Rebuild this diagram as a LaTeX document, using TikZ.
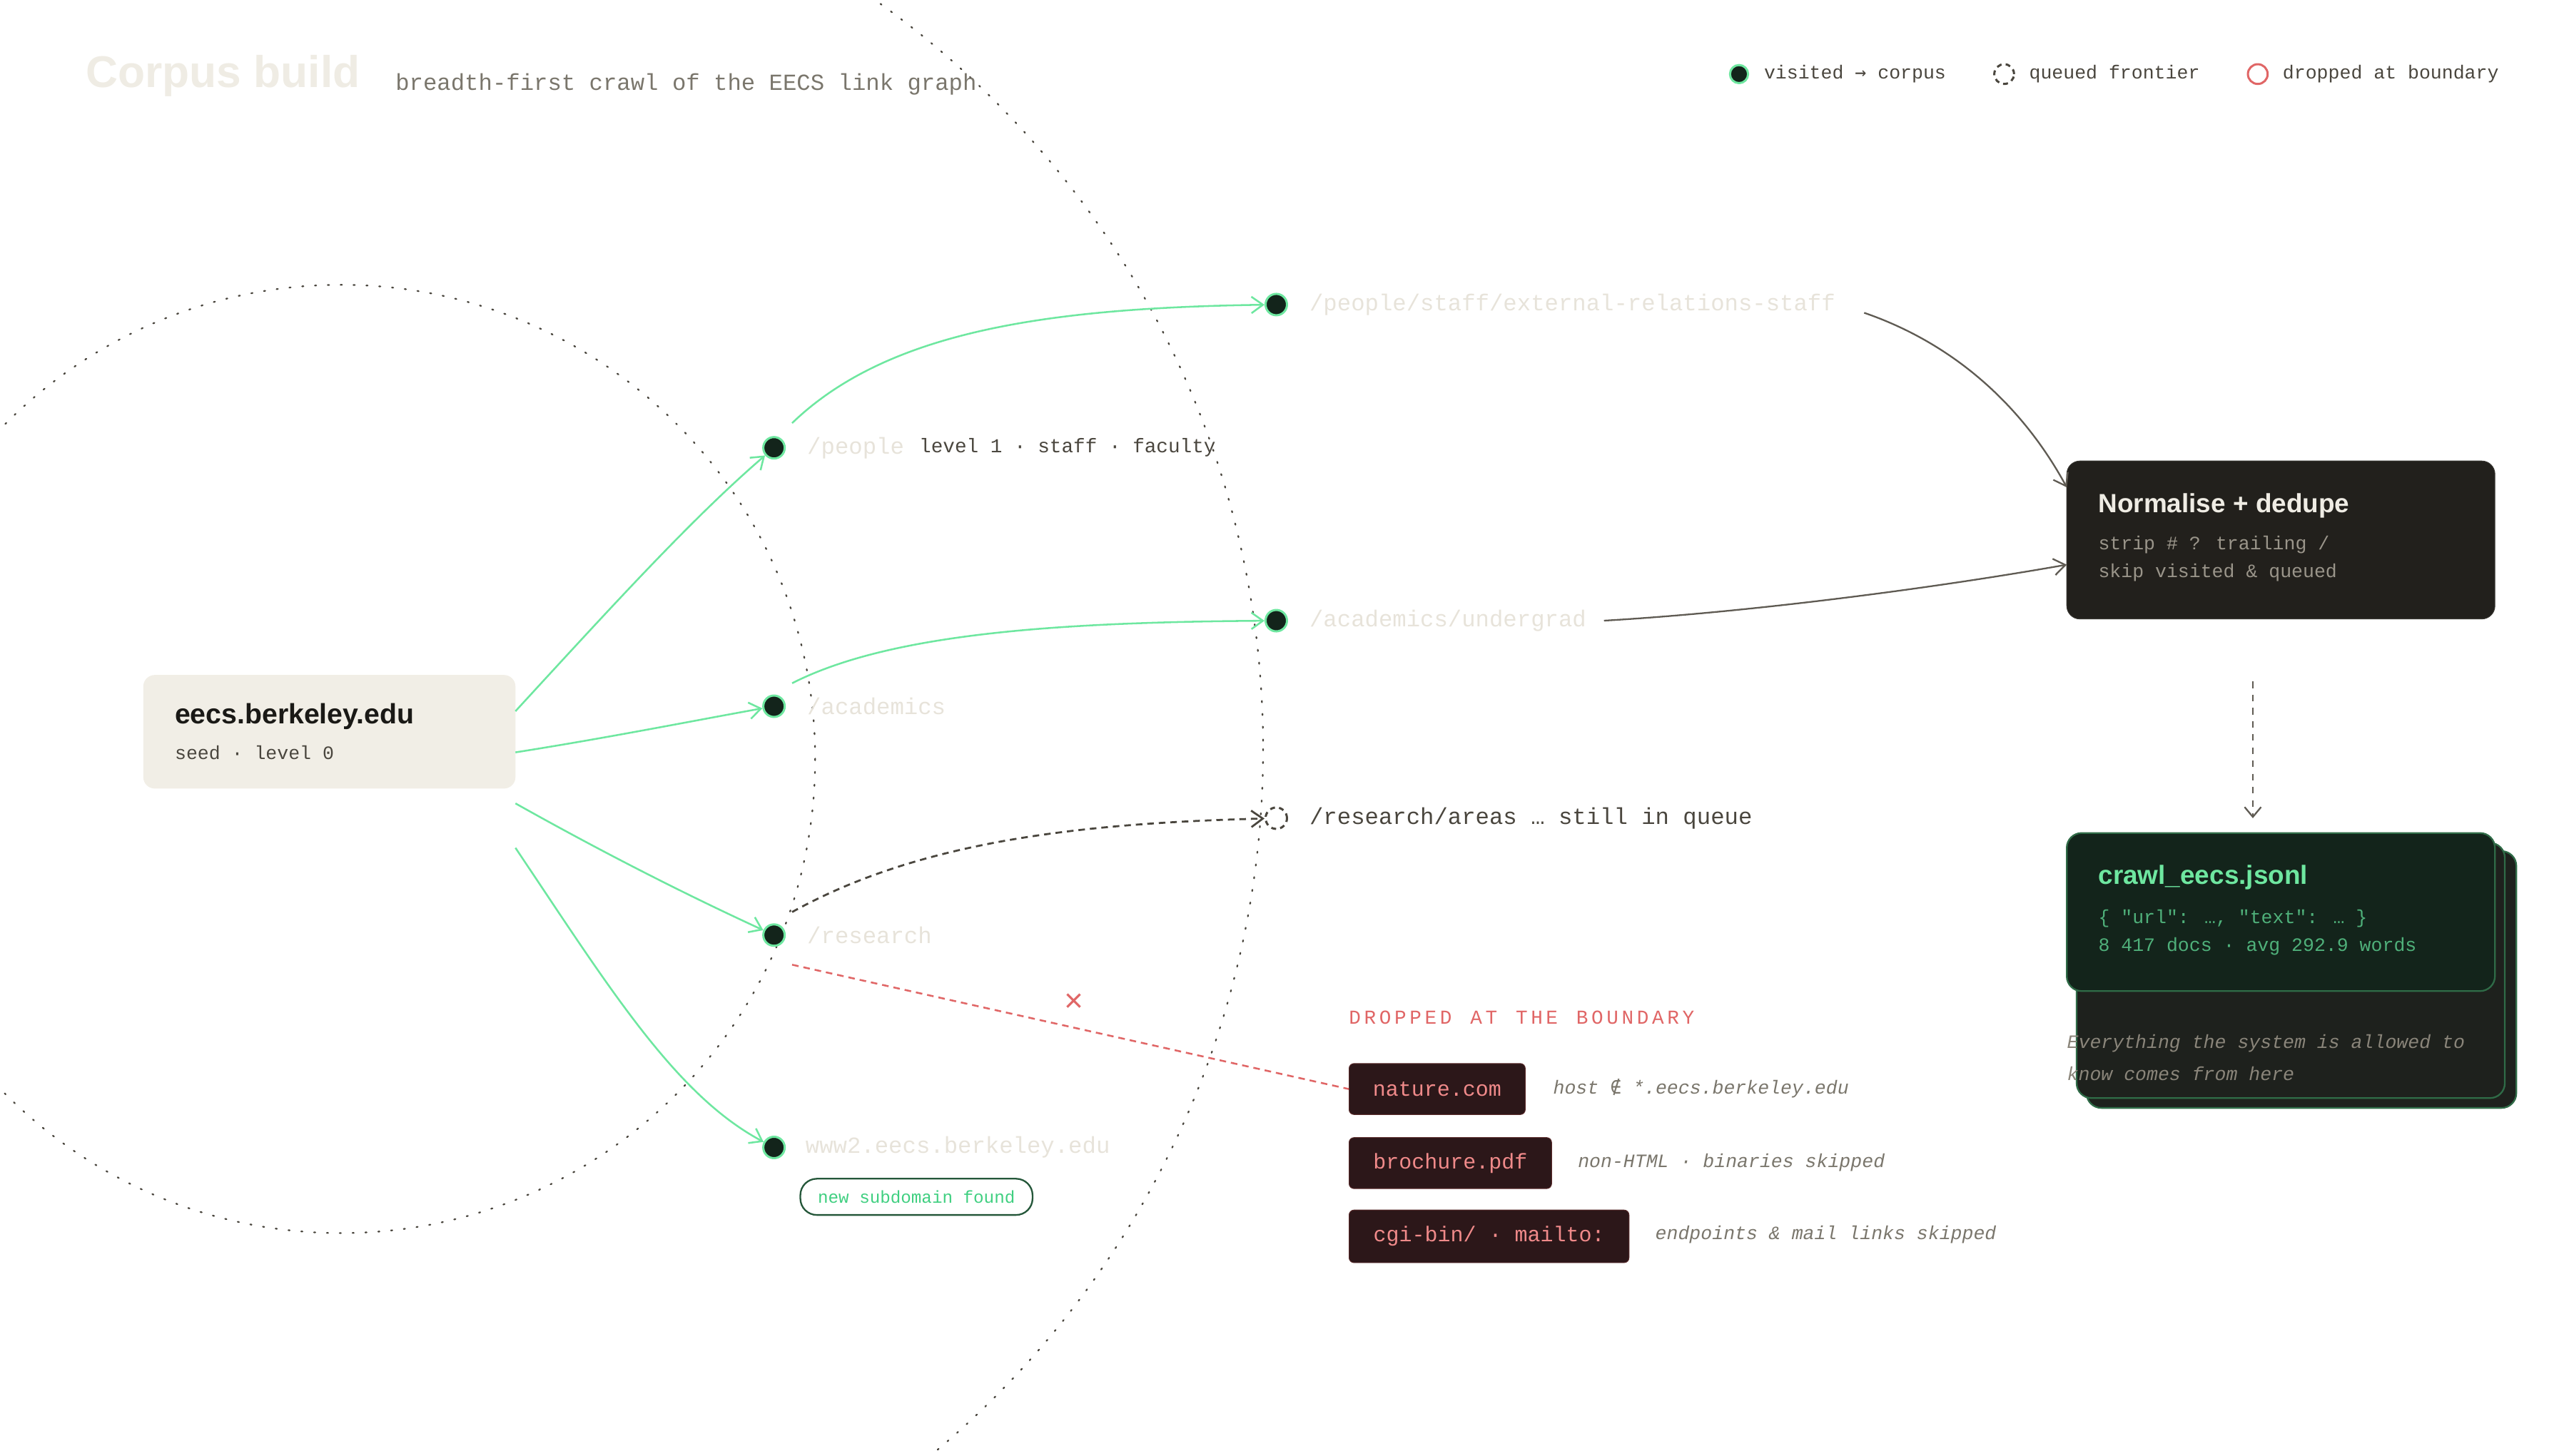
\documentclass[tikz,border=0pt]{standalone}
\usepackage{fontspec}
\setmainfont{Liberation Sans}
\newfontfamily\mono{Liberation Mono}
\newfontfamily\sym{DejaVu Sans Mono}
\usetikzlibrary{arrows.meta}
\definecolor{grn}{HTML}{6EE7A0}
\definecolor{dk}{HTML}{13241B}
\definecolor{lite}{HTML}{E7E3DA}
\definecolor{txt}{HTML}{4A463E}
\definecolor{gry}{HTML}{7A766C}
\definecolor{redc}{HTML}{E06666}
\definecolor{arr}{HTML}{5F5B53}
\definecolor{pillf}{HTML}{2C1719}
\definecolor{pilld}{HTML}{5A2A2A}
\definecolor{ttl}{HTML}{EFECE4}
\definecolor{seedf}{HTML}{F1EEE6}
\definecolor{ink}{HTML}{1A1916}
\definecolor{nsd}{HTML}{25573A}
\definecolor{nst}{HTML}{3FCF80}
\definecolor{pink}{HTML}{F08A8A}
\definecolor{nbf}{HTML}{22201C}
\definecolor{nbd}{HTML}{3A3833}
\definecolor{nbt}{HTML}{9A958A}
\definecolor{stf}{HTML}{1E211D}
\definecolor{std}{HTML}{2F6B47}
\definecolor{jtxt}{HTML}{4FB07A}
\definecolor{ital}{HTML}{8A857A}
\begin{document}
\begin{tikzpicture}[x=1pt,y=-1pt,
  dot/.style={circle,minimum size=13pt,inner sep=0,fill=dk,draw=grn,line width=1.3pt},
  lbl/.style={anchor=west,font=\mono\fontsize{14}{16}\selectfont,text=lite,inner sep=0},
  note/.style={anchor=west,font=\mono\itshape\fontsize{11.5}{14}\selectfont,text=gry,inner sep=0},
  pill/.style={anchor=west,rounded corners=3pt,fill=pillf,draw=pilld,inner sep=0},
  pillt/.style={font=\mono\fontsize{13}{15}\selectfont,text=pink},
  garr/.style={draw=grn,line width=1.1pt,-{Straight Barb[length=7pt,width=10pt]}},
  darr/.style={draw=arr,line width=1pt,-{Straight Barb[length=7pt,width=10pt]}},
  bound/.style={draw=txt,line width=1pt,dash pattern=on 0.8pt off 7pt,line cap=round},
  sm/.style={anchor=west,inner sep=0,font=\mono\fontsize{11.5}{14}\selectfont}]
\useasboundingbox (0,0) rectangle (1560,884);
\begin{scope}
\clip (0,0) rectangle (1560,884);
\draw[bound] (207,461) circle (288);
\draw[bound] (210,455) circle (557);
\end{scope}
% title
\node[anchor=west,inner sep=0,font=\bfseries\fontsize{27}{30}\selectfont,text=ttl] (title) at (52,46) {Corpus build};
\node[anchor=west,inner sep=0,font=\mono\fontsize{14}{16}\selectfont,text=gry] (sub) at (240,51) {breadth-first crawl of the EECS link graph};
% legend
\node[dot,minimum size=11pt] (lg1) at (1056,45) {};
\node[sm,text=txt] (lt1) at (1071,45) {visited {\sym→} corpus};
\node[circle,minimum size=12pt,inner sep=0,draw=txt,line width=1.3pt,dash pattern=on 3pt off 2.5pt] (lg2) at (1217,45) {};
\node[sm,text=txt] (lt2) at (1232,45) {queued frontier};
\node[circle,minimum size=12pt,inner sep=0,draw=redc,line width=1.3pt] (lg3) at (1371,45) {};
\node[sm,text=txt] (lt3) at (1386,45) {dropped at boundary};
% seed
\node[fill=seedf,rounded corners=7pt,minimum width=226pt,minimum height=69pt,inner sep=0] (seed) at (200,444.5) {};
\node[anchor=west,inner sep=0,font=\bfseries\fontsize{17}{20}\selectfont,text=ink] (st) at (106,435) {eecs.berkeley.edu};
\node[sm,text=txt] (ss) at (106,457) {seed · level 0};
% level 1
\node[dot] (p) at (470,272) {};
\node[dot] (a) at (470,429) {};
\node[dot] (r) at (470,568) {};
\node[dot] (w) at (470,697) {};
\node[lbl] (pl) at (490,272) {/people};
\node[anchor=west,inner sep=0,font=\mono\fontsize{12}{14}\selectfont,text=txt] (pn) at (558,272) {level 1 · staff · faculty};
\node[lbl] (al) at (490,429) {/academics};
\node[lbl] (rl) at (490,568) {/research};
\node[lbl] (wl) at (489,697) {www2.eecs.berkeley.edu};
\node[draw=nsd,line width=1pt,rounded corners=10pt,minimum width=141pt,minimum height=22pt,inner sep=0,font=\mono\fontsize{10.5}{12}\selectfont,text=nst] (ns) at (556.5,727) {new subdomain found};
% level 2
\node[dot] (ps) at (775,185) {};
\node[dot] (au) at (775,377) {};
\node[circle,minimum size=13pt,inner sep=0,draw=txt,line width=1.3pt,dash pattern=on 3pt off 2.5pt] (ra) at (775,497) {};
\node[lbl] (psl) at (795,185) {/people/staff/external-relations-staff};
\node[lbl] (aul) at (795,377) {/academics/undergrad};
\node[lbl,text=txt] (ral) at (795,497) {/research/areas … still in queue};
% green arrows
\draw[garr] (313,432) .. controls (370,370) and (420,315) .. (p);
\draw[garr] (313,457) .. controls (370,448) and (420,438) .. (a);
\draw[garr] (313,488) .. controls (370,520) and (420,545) .. (r);
\draw[garr] (313,515) .. controls (370,600) and (410,665) .. (w);
\draw[garr] (481,257) .. controls (540,200) and (640,187) .. (ps);
\draw[garr] (481,415) .. controls (540,385) and (640,378) .. (au);
\draw[draw=txt,line width=1.2pt,dash pattern=on 4pt off 3pt,-{Straight Barb[length=7pt,width=10pt]}] (481,554) .. controls (560,510) and (660,500) .. (ra);
% dropped
\node[anchor=west,inner sep=0,font=\mono\fontsize{12}{14}\selectfont,text=redc] (dh) at (819,618) {D\,R\,O\,P\,P\,E\,D\, \,A\,T\, \,T\,H\,E\, \,B\,O\,U\,N\,D\,A\,R\,Y};
\node[pill,minimum width=107pt,minimum height=31pt] (nc) at (819,661.5) {};
\node[pillt] (nct) at (nc.center) {nature.com};
\node[pill,minimum width=123pt,minimum height=31pt] (bp) at (819,706.5) {};
\node[pillt] (bpt) at (bp.center) {brochure.pdf};
\node[pill,minimum width=170pt,minimum height=32pt] (cg) at (819,751) {};
\node[pillt] (cgt) at (cg.center) {cgi-bin/ · mailto:};
\node[note] (n1) at (943,661) {host {\sym∉} *.eecs.berkeley.edu};
\node[note] (n2) at (958,706) {non-HTML · binaries skipped};
\node[note] (n3) at (1005,750) {endpoints \& mail links skipped};
\draw[draw=redc,line width=1.1pt,dash pattern=on 4pt off 3pt] (481,586) -- (nc.west);
\node[text=redc,font=\fontsize{20}{20}\selectfont,inner sep=0] (x) at (652,609) {×};
% normalise box
\node[fill=nbf,draw=nbd,rounded corners=8pt,minimum width=260pt,minimum height=96pt,inner sep=0] (nb) at (1385,328) {};
\node[anchor=west,inner sep=0,font=\bfseries\fontsize{16}{19}\selectfont,text=ttl] (nbt1) at (1274,307) {Normalise + dedupe};
\node[sm,text=nbt] (nbt2) at (1274,331) {strip \# ? trailing /};
\node[sm,text=nbt] (nbt3) at (1274,348) {skip visited \& queued};
\coordinate (c1) at (1132,190);
\coordinate (c2) at (974,377);
\draw[darr] (c1) .. controls (1190,210) and (1230,250) .. (1255,296);
\draw[darr] (c2) .. controls (1060,372) and (1170,358) .. (1255,343);
% stacked output
\node[fill=stf,draw=std,line width=1pt,rounded corners=9pt,minimum width=261pt,minimum height=156pt,inner sep=0] (b3) at (1397.5,595) {};
\node[fill=stf,draw=std,line width=1pt,rounded corners=9pt,minimum width=260pt,minimum height=155pt,inner sep=0] (b2) at (1391,589.5) {};
\node[fill=dk,draw=std,line width=1pt,rounded corners=9pt,minimum width=260pt,minimum height=96pt,inner sep=0] (ob) at (1385,554) {};
\node[anchor=west,inner sep=0,font=\bfseries\fontsize{16}{19}\selectfont,text=grn] (obt) at (1274,533) {crawl\_eecs.jsonl};
\node[sm,text=jtxt] (ob1) at (1274,558) {\{ "url": …, "text": … \}};
\node[sm,text=jtxt] (ob2) at (1274,575) {8 417 docs · avg 292.9 words};
\node[note,text=ital] (it1) at (1255,634) {Everything the system is allowed to};
\node[note,text=ital] (it2) at (1255,652) {know comes from here};
\coordinate (d1) at (1368,414);
\draw[draw=arr,line width=1pt,dash pattern=on 4pt off 4pt,-{Straight Barb[length=6pt,width=10pt]}] (d1) -- (1368,497);
\end{tikzpicture}
\end{document}
